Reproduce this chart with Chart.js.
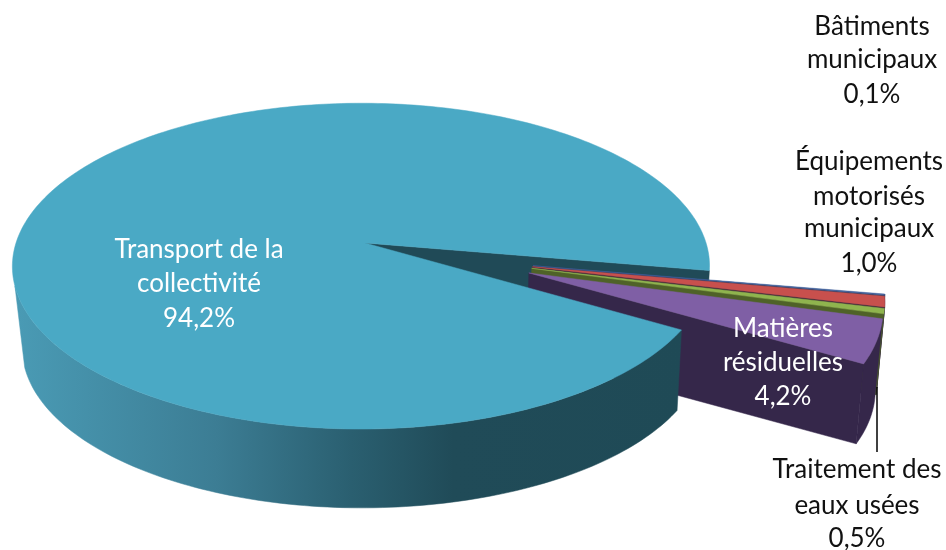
<!DOCTYPE html>
<html lang="fr">
<head>
<meta charset="utf-8">
<title>Répartition</title>
<style>html,body{margin:0;padding:0;background:#fff}canvas{display:block}</style>
<script src="https://cdn.jsdelivr.net/npm/chart.js@4"></script>
</head>
<body>
<canvas id="c" width="946" height="550"></canvas>
<script>
const categories = ["Transport de la collectivité", "Bâtiments municipaux", "Équipements motorisés municipaux", "Traitement des eaux usées", "Matières résiduelles"];
const shares = [94.2, 0.1, 1.0, 0.5, 4.2];
const percentLabels = ["94,2%", "0,1%", "1,0%", "0,5%", "4,2%"];

const topColors = ["#4aa9c5", "#3f5f9a", "#c8504d", "#8fb44e", "#7f5fa5"];
const wallColors = ["#204a57", "#2c3e63", "#3f2a3a", "#4f6228", "#35274a"];

// Tilted plane -> screen perspective
const P = 0.142, SKEW = -0.0115, K = 345, KQ = 159.6, CX = 365, CY = 243;
const EXPLODE = 0.5, GROUP_DIR = 20.5 * Math.PI / 180;
function top3d(X, Y) {
  const d = 1 - P * Y - SKEW * X;
  return [CX + K * X / d, CY + KQ * Y / d];
}
function bot3d(X, Y) {
  const p = top3d(X, Y);
  const dx = p[0] - CX;
  return [366 + (dx < 0 ? 0.975 : 0.983) * dx, 325 + 0.983 * (p[1] - CY)];
}
function rim(arc, i, a0, a1) {
  const mid = (arc.startAngle + arc.endAngle) / 2 - 2 * Math.PI;
  const dir = 0.4 * mid + 0.6 * GROUP_DIR;
  const d = i === 0 ? 0 : EXPLODE;
  const ox = d * Math.cos(dir), oy = d * Math.sin(dir);
  const n = Math.max(2, Math.ceil((a1 - a0) / 0.02));
  const pts = [];
  for (let k = 0; k <= n; k++) {
    const a = a0 + (a1 - a0) * k / n;
    pts.push([ox + Math.cos(a), oy + Math.sin(a)]);
  }
  return { pts, ox, oy };
}
function poly(ctx, pts, fill) {
  ctx.beginPath();
  pts.forEach((p, i) => i ? ctx.lineTo(p[0], p[1]) : ctx.moveTo(p[0], p[1]));
  ctx.closePath();
  ctx.fillStyle = fill;
  ctx.fill();
  ctx.strokeStyle = fill;
  ctx.lineWidth = 0.5;
  ctx.stroke();
}
function topFace(ctx, arc, i) {
  const r = rim(arc, i, arc.startAngle, arc.endAngle);
  const pts = [top3d(r.ox, r.oy)].concat(r.pts.map(p => top3d(p[0], p[1])));
  poly(ctx, pts, arc.options.backgroundColor);
}
function rimWall(ctx, arc, i, a0, a1, fill) {
  const r = rim(arc, i, a0, a1);
  const pts = r.pts.map(p => top3d(p[0], p[1])).concat(r.pts.slice().reverse().map(p => bot3d(p[0], p[1])));
  poly(ctx, pts, fill);
}
function radialWall(ctx, arc, i, a, fill) {
  const r = rim(arc, i, a, a);
  const e = r.pts[0];
  poly(ctx, [top3d(r.ox, r.oy), top3d(e[0], e[1]), bot3d(e[0], e[1]), bot3d(r.ox, r.oy)], fill);
}

const pie3d = {
  id: "pie3d",
  beforeDatasetsDraw(chart) {
    const ctx = chart.ctx;
    const arcs = chart.getDatasetMeta(0).data;
    const main = arcs[0];
    const last = arcs.length - 1;
    ctx.save();
    radialWall(ctx, main, 0, main.endAngle, wallColors[0]);
    for (let i = 1; i < arcs.length; i++) {
      const a = arcs[i];
      rimWall(ctx, a, i, a.startAngle, a.endAngle, wallColors[last]);
      radialWall(ctx, a, i, a.endAngle, wallColors[i]);
      topFace(ctx, a, i);
    }
    const g = ctx.createLinearGradient(13, 0, 690, 0);
    g.addColorStop(0, "#4a9bb5");
    g.addColorStop(0.3, "#3c7d94");
    g.addColorStop(0.5, "#2a5f70");
    g.addColorStop(0.65, "#204b58");
    g.addColorStop(1, "#1f4a56");
    rimWall(ctx, main, 0, main.startAngle, Math.PI * 0.917, g);
    topFace(ctx, main, 0);
    ctx.restore();
    return false;
  },
  afterDraw(chart) {
    const ctx = chart.ctx;
    ctx.save();
    ctx.strokeStyle = "#000";
    ctx.lineWidth = 1.5;
    ctx.beginPath();
    ctx.moveTo(877, 387);
    ctx.lineTo(877, 452);
    ctx.stroke();
    ctx.font = "26px Lato";
    ctx.textAlign = "center";
    ctx.textBaseline = "middle";
    const blocks = [
      [["Transport de la", "collectivité", percentLabels[0]], 199, [250, 284, 319], "#fff"],
      [["Bâtiments", "municipaux", percentLabels[1]], 872, [27, 60, 95], "#111"],
      [["Équipements", "motorisés", "municipaux", percentLabels[2]], 869, [162, 197, 229, 264], "#111"],
      [["Matières", "résiduelles", percentLabels[4]], 783, [329, 363, 397], "#fff"],
      [["Traitement des", "eaux usées", percentLabels[3]], 857, [470, 506, 539], "#111"]
    ];
    blocks.forEach(([lines, x, ys, col]) => {
      ctx.fillStyle = col;
      lines.forEach((t, i) => ctx.fillText(t, x, ys[i]));
    });
    ctx.restore();
  }
};

new Chart(document.getElementById("c"), {
  type: "pie",
  data: {
    labels: categories,
    datasets: [{ data: shares, backgroundColor: topColors, borderWidth: 0 }]
  },
  options: {
    responsive: false,
    animation: false,
    rotation: 120.7,
    plugins: { legend: { display: false }, tooltip: { enabled: false } }
  },
  plugins: [pie3d]
});
</script>
</body>
</html>
